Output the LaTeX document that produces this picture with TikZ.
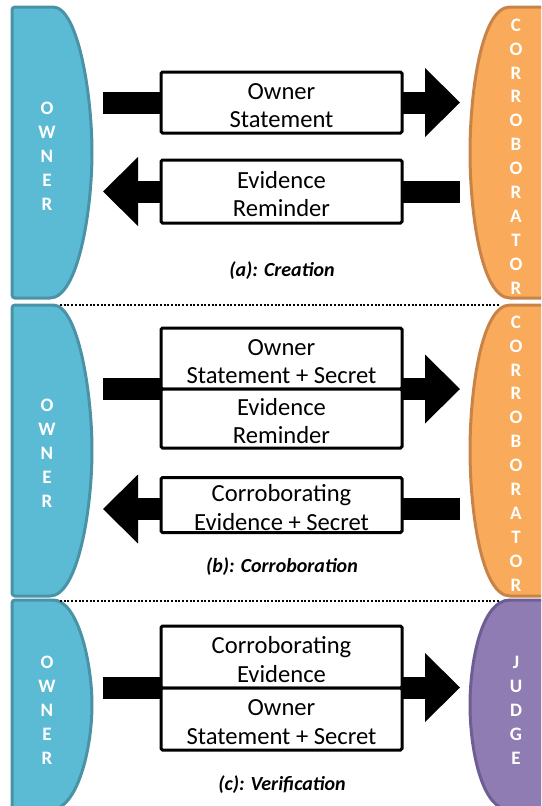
\documentclass[tikz,border=0pt]{standalone}
\usepackage{fontspec}
\setmainfont{Carlito}
\usetikzlibrary{positioning,arrows.meta}

\definecolor{owner_fill}{HTML}{5BBBD4}
\definecolor{owner_line}{HTML}{4A93A6}
\definecolor{corr_fill}{HTML}{F9AA5A}
\definecolor{corr_line}{HTML}{C88448}
\definecolor{judge_fill}{HTML}{8E7CB3}
\definecolor{judge_line}{HTML}{6E5E94}
\tikzstyle{msg_box}=[rectangle,
                     draw=black,
                     line width=3pt,
                     fill=white,
                     minimum width=241pt,
                     inner sep=0pt,
                     outer sep=0pt,
                     align=center,
                     rounded corners=1.5,
                     text height=50pt,
                     text depth=0pt,
                     font=\fontsize{24.6}{28.5}\selectfont, ]
\tikzstyle{flow}=[line width=22pt,
                  -{Triangle[width=69pt, length=35pt, line width=0pt]}, ]
\tikzstyle{party_shape}=[line width=3pt, ]
\tikzstyle{party_letters}=[text=white,
                           align=center,
                           font=\fontsize{19}{23.9}\selectfont\bfseries, ]
\tikzstyle{caption}=[font=\fontsize{20}{24}\selectfont\bfseries\itshape, ]
\tikzstyle{separator}=[line width=2pt, dash pattern=on 2pt off 1.7pt, ]

\begin{document}
\begin{tikzpicture}[x=1pt, y=-1pt]
  \useasboundingbox (0,0) rectangle (541,806);
  \clip (0,0) rectangle (541,806);

  % Owners
  % -------------------------------------------------------------
  \foreach \t/\b/\n in {7/298/a, 305/596/b, 600/810/c} {
      \pgfmathsetmacro{\h}{\b-\t}
      \pgfmathsetmacro{\m}{(\t+\b)/2}
      \draw[party_shape, draw=owner_line, fill=owner_fill]
        (50,\t) .. controls (78,\t) and (92,\t+0.3*\h) .. (92,\m)
        .. controls (92,\b-0.3*\h) and (78,\b) .. (50,\b)
        [rounded corners=3pt] -- (12,\b) -- (12,\t) -- cycle;
    }
  \node at (47,156.5) (owner_a) [party_letters] {O\\W\\N\\E\\R};
  \node at (47,453) (owner_b) [party_letters] {O\\W\\N\\E\\R};
  \node at (47,710.5) (owner_c) [party_letters] {O\\W\\N\\E\\R};

  % Corroborators and judge
  % -------------------------------------------------------------
  \foreach \t/\b/\c in {7/298/corr, 305/596/corr, 600/810/judge} {
      \pgfmathsetmacro{\h}{\b-\t}
      \pgfmathsetmacro{\m}{(\t+\b)/2}
      \draw[party_shape, draw={\c_line}, fill={\c_fill}]
        (548,\t) -- (510,\t) .. controls (481,\t) and (470,\t+0.3*\h) .. (470,\m)
        .. controls (470,\b-0.3*\h) and (481,\b) .. (510,\b) -- (548,\b) -- cycle;
    }
  \node at (516,156.5) (corroborator_a) [party_letters] {C\\O\\R\\R\\O\\B\\O\\R\\A\\T\\O\\R};
  \node at (516,453.5) (corroborator_b) [party_letters] {C\\O\\R\\R\\O\\B\\O\\R\\A\\T\\O\\R};
  \node at (516,710.5) (judge_c) [party_letters] {J\\U\\D\\G\\E};

  % Separators
  % -------------------------------------------------------------
  \draw[separator] (60,304.5) -- (500,304.5);
  \draw[separator] (60,601) -- (500,601);

  % (a) Creation
  % -------------------------------------------------------------
  \coordinate (a_send_start) at (103,102.5);
  \coordinate (a_send_end) at (460,102.5);
  \coordinate (a_back_start) at (460,191.5);
  \coordinate (a_back_end) at (103,191.5);
  \draw[flow] (a_send_start) -- (a_send_end);
  \draw[flow] (a_back_start) -- (a_back_end);
  \node at (281.5,102.5) (a_statement) [msg_box, minimum height=61pt] {Owner\\Statement};
  \node at (281.5,191.5) (a_reminder) [msg_box, minimum height=63pt] {Evidence\\Reminder};
  \node at (282,271) (a_caption) [caption] {(a): Creation};

  % (b) Corroboration
  % -------------------------------------------------------------
  \coordinate (b_send_start) at (103,389);
  \coordinate (b_send_end) at (460,389);
  \coordinate (b_back_start) at (460,509);
  \coordinate (b_back_end) at (103,509);
  \draw[flow] (b_send_start) -- (b_send_end);
  \draw[flow] (b_back_start) -- (b_back_end);
  \node at (281.5,358.5) (b_statement) [msg_box, minimum height=61pt] {Owner\\Statement + Secret};
  \node (b_reminder) [msg_box, minimum height=59pt, below=0pt of b_statement] {Evidence\\Reminder};
  \node at (281.5,505) (b_evidence) [msg_box, minimum height=55pt] {Corroborating\\Evidence + Secret};
  \node at (282,567) (b_caption) [caption] {(b): Corroboration};

  % (c) Verification
  % -------------------------------------------------------------
  \coordinate (c_send_start) at (103,687.5);
  \coordinate (c_send_end) at (460,687.5);
  \draw[flow] (c_send_start) -- (c_send_end);
  \node at (281.5,657) (c_evidence) [msg_box, minimum height=62pt] {Corroborating\\Evidence};
  \node (c_statement) [msg_box, minimum height=62pt, below=0pt of c_evidence] {Owner\\Statement + Secret};
  \node at (282,785) (c_caption) [caption] {(c): Verification};
\end{tikzpicture}
\end{document}
